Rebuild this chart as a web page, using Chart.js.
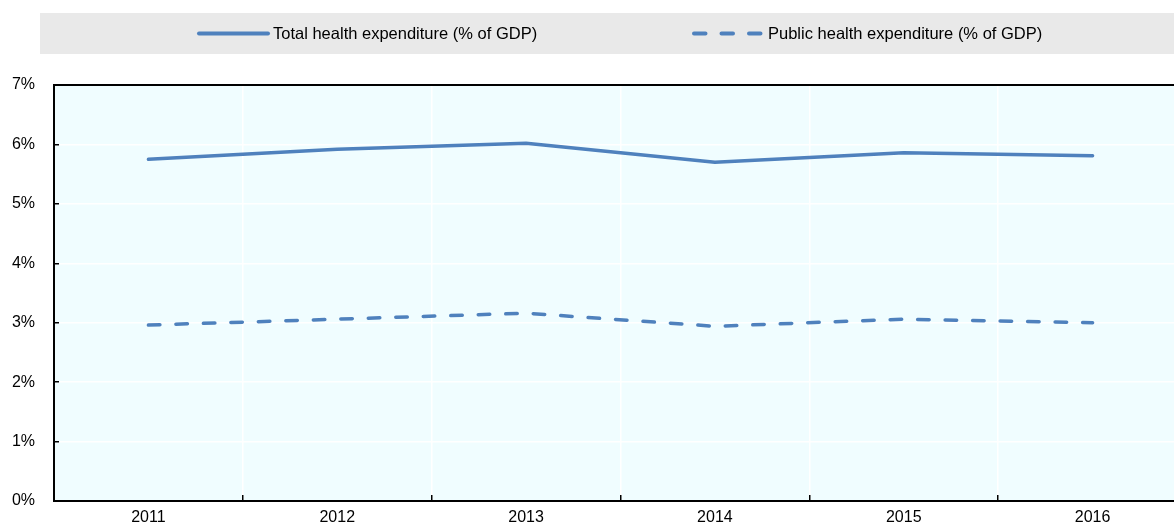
<!DOCTYPE html>
<html>
<head>
<meta charset="utf-8">
<script src="https://cdn.jsdelivr.net/npm/chart.js@4/dist/chart.umd.min.js"></script>
<style>
  html, body { margin: 0; padding: 0; background: #ffffff; overflow: hidden; }
  #wrap { width: 1240px; height: 527px; }
</style>
</head>
<body>
<div id="wrap"><canvas id="c" width="1240" height="527"></canvas></div>
<script>
const categories = ['2011', '2012', '2013', '2014', '2015', '2016'];
const totalHealthExp = [5.75, 5.92, 6.02, 5.70, 5.86, 5.81];
const publicHealthExp = [2.96, 3.06, 3.16, 2.94, 3.06, 3.00];
const seriesNames = ['Total health expenditure (% of GDP)', 'Public health expenditure (% of GDP)'];
const yTicks = [0, 1, 2, 3, 4, 5, 6, 7];

const FONT = "'Liberation Sans', Arial, sans-serif";
const BLUE = '#4f81bd';

const bgPlugin = {
  id: 'bg',
  beforeDraw(chart) {
    const { ctx, chartArea: a } = chart;
    ctx.save();
    ctx.fillStyle = '#e9e9e9';
    ctx.fillRect(40, 13, chart.width - 40, 41);
    ctx.fillStyle = '#f0fdff';
    ctx.fillRect(a.left, a.top, a.right - a.left, a.bottom - a.top);
    ctx.restore();
  },
  afterDraw(chart) {
    const { ctx, chartArea: a } = chart;
    ctx.save();
    ctx.strokeStyle = '#000';
    ctx.lineWidth = 2;
    ctx.beginPath();
    ctx.moveTo(a.left - 1, a.top);
    ctx.lineTo(a.right, a.top);
    ctx.stroke();
    const items = [
      { x: 197, dash: [], text: seriesNames[0] },
      { x: 692, dash: [11.5, 16], text: seriesNames[1] }
    ];
    const y = 33.5;
    items.forEach(it => {
      ctx.strokeStyle = BLUE;
      ctx.lineWidth = 4;
      ctx.lineCap = 'round';
      ctx.setLineDash(it.dash);
      ctx.beginPath();
      ctx.moveTo(it.x + 2, y);
      ctx.lineTo(it.x + 71, y);
      ctx.stroke();
      ctx.setLineDash([]);
      ctx.fillStyle = '#000';
      ctx.font = '16.5px ' + FONT;
      ctx.textBaseline = 'middle';
      ctx.textAlign = 'left';
      ctx.fillText(it.text, it.x + 76, y + 0.5);
    });
    ctx.restore();
  }
};

new Chart(document.getElementById('c'), {
  type: 'line',
  data: {
    labels: categories,
    datasets: [
      {
        label: seriesNames[0],
        data: totalHealthExp,
        borderColor: BLUE,
        backgroundColor: BLUE,
        borderWidth: 3.5,
        pointRadius: 0,
        tension: 0,
        borderCapStyle: 'round',
        borderJoinStyle: 'round'
      },
      {
        label: seriesNames[1],
        data: publicHealthExp,
        borderColor: BLUE,
        backgroundColor: BLUE,
        borderWidth: 3.5,
        borderDash: [11.5, 16],
        borderCapStyle: 'round',
        pointRadius: 0,
        tension: 0
      }
    ]
  },
  options: {
    responsive: false,
    animation: false,
    layout: { padding: { top: 85, right: 53, left: 0, bottom: 0 } },
    plugins: {
      legend: { display: false },
      tooltip: { enabled: false }
    },
    scales: {
      x: {
        type: 'category',
        offset: true,
        grid: {
          offset: true,
          color: '#ffffff',
          lineWidth: 1.5,
          tickColor: '#000000',
          tickLength: -6,
          tickWidth: 1.5
        },
        border: { color: '#000000', width: 2 },
        ticks: {
          color: '#000000',
          font: { family: FONT, size: 16 },
          padding: 13,
          maxRotation: 0
        },
        afterFit(s) { s.height = 26; s.paddingLeft = 0; s.paddingRight = 0; }
      },
      y: {
        min: 0,
        max: 7,
        afterBuildTicks(s) { s.ticks = yTicks.map(v => ({ value: v })); },
        grid: {
          color: (c) => (c.tick && (c.tick.value === 0 || c.tick.value === 7)) ? 'rgba(0,0,0,0)' : '#ffffff',
          lineWidth: 1.5,
          tickColor: '#000000',
          tickLength: -5,
          tickWidth: 1.5
        },
        border: { color: '#000000', width: 2 },
        ticks: {
          color: '#000000',
          font: { family: FONT, size: 16 },
          padding: 24,
          callback: (v) => v + '%'
        },
        afterFit(s) { s.width = 54; s.paddingTop = 0; s.paddingBottom = 0; }
      }
    }
  },
  plugins: [bgPlugin]
});
</script>
</body>
</html>
